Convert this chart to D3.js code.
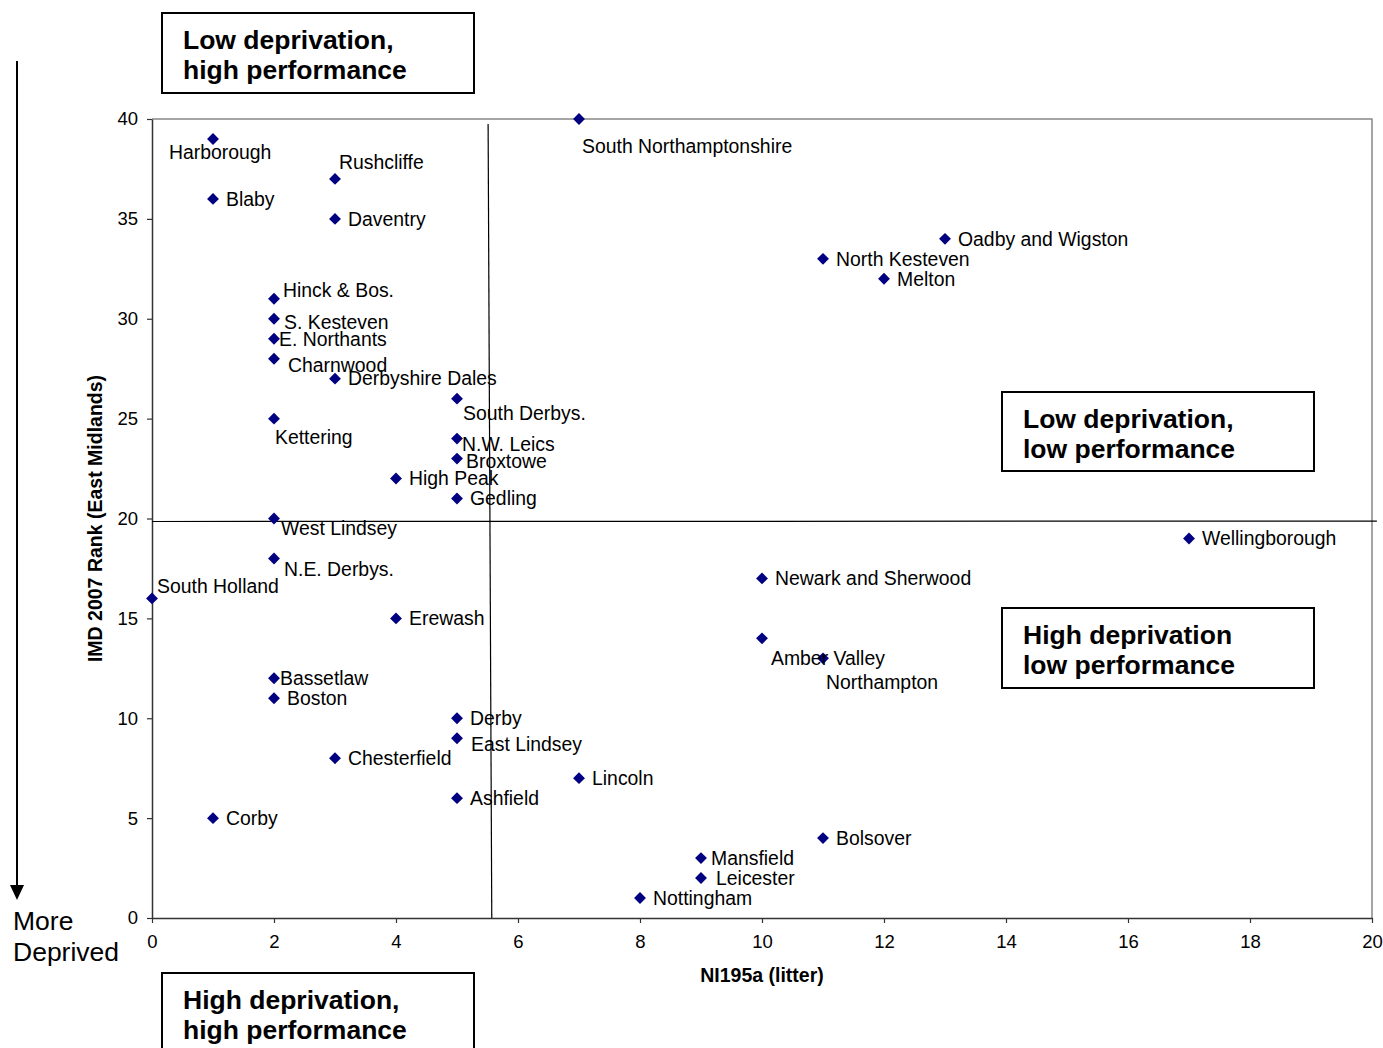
<!DOCTYPE html>
<html>
<head>
<meta charset="utf-8">
<script src="https://cdn.jsdelivr.net/npm/d3@7"></script>
<style>
  body { margin: 0; background: #fff; }
  svg { display: block; font-family: "Liberation Sans", Arial, sans-serif; }
</style>
</head>
<body>
<svg id="chart"></svg>
<script>
// district names, NI195a (litter) score, IMD 2007 rank within East Midlands
const districts = ["South Northamptonshire", "Harborough", "Rushcliffe", "Blaby", "Daventry",
  "Oadby and Wigston", "North Kesteven", "Melton", "Hinck & Bos.", "S. Kesteven",
  "E. Northants", "Charnwood", "Derbyshire Dales", "South Derbys.", "Kettering",
  "N.W. Leics", "Broxtowe", "High Peak", "Gedling", "West Lindsey",
  "Wellingborough", "N.E. Derbys.", "Newark and Sherwood", "South Holland", "Erewash",
  "Amber Valley", "Northampton", "Bassetlaw", "Boston", "Derby",
  "East Lindsey", "Chesterfield", "Lincoln", "Ashfield", "Corby",
  "Bolsover", "Mansfield", "Leicester", "Nottingham"];
const litter = [7, 1, 3, 1, 3, 13, 11, 12, 2, 2,
  2, 2, 3, 5, 2, 5, 5, 4, 5, 2,
  17, 2, 10, 0, 4, 10, 11, 2, 2, 5,
  5, 3, 7, 5, 1, 11, 9, 9, 8];
const imdRank = [40, 39, 37, 36, 35, 34, 33, 32, 31, 30,
  29, 28, 27, 26, 25, 24, 23, 22, 21, 20,
  19, 18, 17, 16, 15, 14, 13, 12, 11, 10,
  9, 8, 7, 6, 5, 4, 3, 2, 1];

const xTicks = [0, 2, 4, 6, 8, 10, 12, 14, 16, 18, 20];
const yTicks = [0, 5, 10, 15, 20, 25, 30, 35, 40];

// quadrant divider lines (data units)
const dividerV = [[5.51, 39.75], [5.57, 0]];
const dividerH = [[0, 19.85], [20.08, 19.87]];

const quadrantText = [
  ["Low deprivation,", "high performance"],
  ["Low deprivation,", "low performance"],
  ["High deprivation", "low performance"],
  ["High deprivation,", "high performance"]
];

// label placement tweaks (pixels) where the default right-hand label moves
const labelNudge = {
  "South Northamptonshire": [3, 27], "Harborough": [-44, 13], "Rushcliffe": [4, -17],
  "Hinck & Bos.": [9, -9], "S. Kesteven": [10, 3], "E. Northants": [5, 0],
  "Charnwood": [14, 7], "South Derbys.": [6, 15], "Kettering": [1, 19],
  "N.W. Leics": [5, 6], "Broxtowe": [9, 3], "West Lindsey": [7, 10],
  "N.E. Derbys.": [10, 11], "South Holland": [5, -12], "Amber Valley": [9, 20],
  "Northampton": [3, 24], "Bassetlaw": [6, 0], "East Lindsey": [14, 6],
  "Mansfield": [10, 0], "Leicester": [15, 0]
};

const width = 1383, height = 1048;
const margin = {top: 119, right: 11, bottom: 130, left: 152};
const w = width - margin.left - margin.right;
const h = height - margin.top - margin.bottom;

const svg = d3.select("#chart").attr("width", width).attr("height", height);
const chart = svg.append("g").attr("transform", `translate(${margin.left},${margin.top})`);

const x = d3.scaleLinear().domain([0, 20]).range([0, w]);
const y = d3.scaleLinear().domain([0, 40]).range([h, 0]);

// plot frame (top and right in grey)
chart.append("path")
  .attr("d", `M0,0H${w}V${h}`)
  .attr("fill", "none")
  .attr("stroke", "#888")
  .attr("stroke-width", 1.5);

const xAxis = d3.axisBottom(x).tickValues(xTicks).tickSize(5).tickPadding(12).tickSizeOuter(0);
const yAxis = d3.axisLeft(y).tickValues(yTicks).tickSize(5).tickPadding(9).tickSizeOuter(0);

const xAxisG = chart.append("g").attr("transform", `translate(0,${h})`).call(xAxis);
const yAxisG = chart.append("g").call(yAxis);

[xAxisG, yAxisG].forEach(g => {
  g.select(".domain").attr("stroke", "#333").attr("stroke-width", 1.5);
  g.selectAll(".tick line").attr("stroke", "#333").attr("stroke-width", 1.2);
  g.selectAll(".tick text")
    .attr("fill", "#000")
    .style("font-size", "18.5px")
    .style("font-family", "Liberation Sans, Arial, sans-serif");
});

// axis titles
svg.append("text")
  .attr("x", margin.left + x(10))
  .attr("y", 982)
  .attr("text-anchor", "middle")
  .style("font-size", "19.5px")
  .style("font-weight", "bold")
  .text("NI195a (litter)");

svg.append("text")
  .attr("transform", `translate(102,${margin.top + y(20)}) rotate(-90)`)
  .attr("text-anchor", "middle")
  .style("font-size", "19.5px")
  .style("font-weight", "bold")
  .text("IMD 2007 Rank (East Midlands)");

// quadrant divider lines
const line = d3.line().x(d => x(d[0])).y(d => y(d[1]));
[dividerV, dividerH].forEach(seg => {
  chart.append("path")
    .attr("d", line(seg))
    .attr("fill", "none")
    .attr("stroke", "#000")
    .attr("stroke-width", 1.2);
});

// points
const pts = districts.map((name, i) => ({name, x: litter[i], y: imdRank[i]}));

const diamond = d3.symbol().type(d3.symbolDiamond2).size(90);
chart.selectAll(".pt")
  .data(pts)
  .join("path")
  .attr("class", "pt")
  .attr("d", diamond)
  .attr("transform", d => `translate(${x(d.x)},${y(d.y)})`)
  .attr("fill", "#000080");

chart.selectAll(".lbl")
  .data(pts)
  .join("text")
  .attr("class", "lbl")
  .attr("x", d => x(d.x) + (labelNudge[d.name] ? labelNudge[d.name][0] : 13))
  .attr("y", d => y(d.y) + (labelNudge[d.name] ? labelNudge[d.name][1] : 0))
  .attr("dy", "0.35em")
  .style("font-size", "19.4px")
  .attr("fill", "#000")
  .text(d => d.name);

// quadrant description boxes
const boxes = [
  {x: 162, y: 13, w: 312, h: 80},
  {x: 1002, y: 392, w: 312, h: 79},
  {x: 1002, y: 608, w: 312, h: 80},
  {x: 162, y: 973, w: 312, h: 90}
];
boxes.forEach((b, i) => {
  const g = svg.append("g").attr("transform", `translate(${b.x},${b.y})`);
  g.append("rect")
    .attr("width", b.w).attr("height", b.h)
    .attr("fill", "#fff").attr("stroke", "#000").attr("stroke-width", 2);
  g.selectAll("text")
    .data(quadrantText[i])
    .join("text")
    .attr("x", 21)
    .attr("y", (d, j) => 27 + j * 30)
    .attr("dy", "0.35em")
    .style("font-size", "26.5px")
    .style("font-weight", "bold")
    .text(d => d);
});

// "More Deprived" arrow on the left
svg.append("line")
  .attr("x1", 17).attr("x2", 17)
  .attr("y1", 61).attr("y2", 888)
  .attr("stroke", "#000").attr("stroke-width", 2);
svg.append("path")
  .attr("d", "M10,885L24,885L17,900Z")
  .attr("fill", "#000");
svg.append("text").attr("x", 13).attr("y", 921).attr("dy", "0.35em")
  .style("font-size", "26.5px").text("More");
svg.append("text").attr("x", 13).attr("y", 952).attr("dy", "0.35em")
  .style("font-size", "26.5px").text("Deprived");
</script>
</body>
</html>
